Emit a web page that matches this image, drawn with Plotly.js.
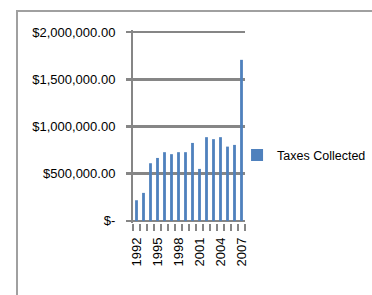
<!DOCTYPE html>
<html>
<head>
<meta charset="utf-8">
<script src="https://cdn.plot.ly/plotly-3.0.1.min.js"></script>
<style>
  html, body { margin: 0; padding: 0; background: #fff; }
  #wrap { position: relative; width: 372px; height: 295px; overflow: hidden; }
  #frame { position: absolute; left: 16px; top: 10px; width: 400px; height: 300px;
           border-left: 2px solid #a0a0a0; border-top: 2px solid #a0a0a0; }
  #chart { position: absolute; left: 0; top: 0; width: 372px; height: 295px; }
</style>
</head>
<body>
<div id="wrap">
  <div id="frame"></div>
  <div id="chart"></div>
</div>
<script>
const years = ['1992','1993','1994','1995','1996','1997','1998','1999','2000','2001','2002','2003','2004','2005','2006','2007'];
const taxesCollected = [219000, 297000, 611000, 667000, 728000, 707000, 728000, 728000, 826000, 551000, 887000, 866000, 887000, 787000, 805000, 1706000];
const xTickText = ['1992','','','1995','','','1998','','','2001','','','2004','','','2007'];
const yTickVals = [0, 500000, 1000000, 1500000, 2000000];
const yTickText = ['$-', '$500,000.00', '$1,000,000.00', '$1,500,000.00', '$2,000,000.00'];

const grey = '#868686';
const font = {family: 'Liberation Sans, Arial, sans-serif', size: 13, color: '#000'};

Plotly.newPlot('chart', [{
  type: 'bar',
  name: 'Taxes Collected',
  x: years,
  y: taxesCollected,
  marker: {color: '#4f81bd'}
}], {
  width: 372, height: 295,
  margin: {l: 133, r: 127, t: 30, b: 72, autoexpand: false},
  paper_bgcolor: 'rgba(0,0,0,0)',
  plot_bgcolor: 'rgba(0,0,0,0)',
  font: font,
  bargap: 0.6,
  showlegend: true,
  legend: {x: 0.929, xanchor: 'left', y: 0.35, yanchor: 'middle', font: {family: font.family, size: 12.5, color: '#000'}, bgcolor: 'rgba(0,0,0,0)'},
  xaxis: {
    type: 'category',
    tickmode: 'array', tickvals: years, ticktext: xTickText,
    tickson: 'boundaries',
    ticks: 'outside', ticklen: 7, tickwidth: 2, tickcolor: grey,
    tickangle: -90,
    showline: false, showgrid: false, zeroline: false,
    ticklabelstandoff: 11,
    automargin: false,
    fixedrange: true
  },
  yaxis: {
    range: [-22000, 2022000],
    tickmode: 'array', tickvals: yTickVals, ticktext: yTickText,
    ticks: 'outside', ticklen: 5, tickwidth: 2.5, tickcolor: grey,
    showgrid: true, gridcolor: grey, gridwidth: 2.5,
    zeroline: false,
    showline: true, linecolor: grey, linewidth: 2,
    ticklabelstandoff: 8,
    automargin: false,
    fixedrange: true
  }
}, {staticPlot: true});
</script>
</body>
</html>
